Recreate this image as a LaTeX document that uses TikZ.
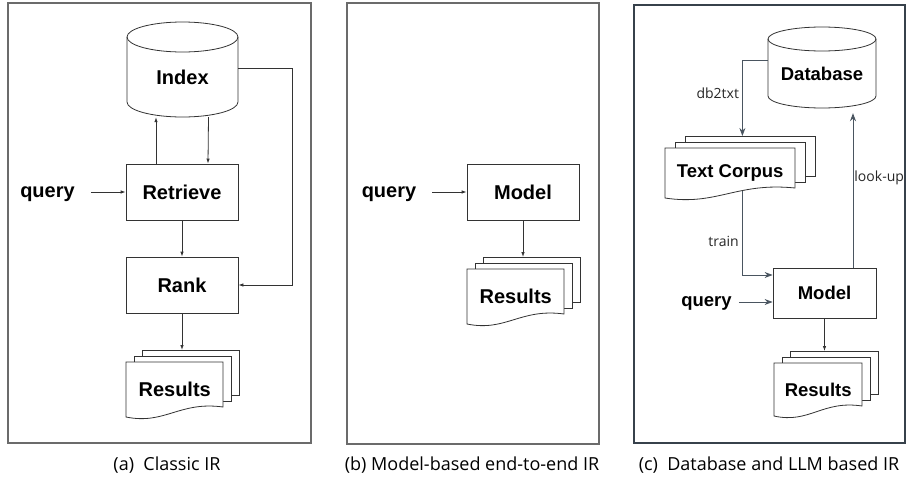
\documentclass[tikz,border=0pt]{standalone}
\usepackage{fontspec}
\setmainfont{Open Sans}
\setsansfont{Liberation Sans}
\usepackage{tikz}
\usetikzlibrary{calc,arrows.meta}

\definecolor{marco}{HTML}{6B6B6B}
\definecolor{marcoc}{HTML}{37414B}
\definecolor{grisc}{HTML}{4A5560}

\newcommand{\etiq}{\sffamily\bfseries\fontsize{20}{24}\selectfont}
\newcommand{\etiqc}{\sffamily\bfseries\fontsize{18.5}{22}\selectfont}
\newcommand{\pie}{\fontsize{18}{22}\selectfont}
\newcommand{\rotulo}{\fontsize{14}{17}\selectfont}

\tikzset{
  linea/.style={draw=black!80, line width=0.8pt},
  flecha/.style={linea, -{Latex[length=5pt, width=3.5pt]}},
  flechac/.style={draw=grisc, line width=0.9pt, -{Stealth[length=8pt, width=6pt]}},
  caja/.style={linea, fill=white, minimum width=112, minimum height=56, font=\etiq},
  hoja/.style={linea, fill=white, inner sep=0pt},
  texto/.style={font=\etiq, inner sep=0pt, text depth=0pt},
  rot/.style={font=\rotulo, text=black!85, inner sep=3pt},
}

% Pila de documentos: nombre, x, y, ancho, alto, desplazamiento, texto
\newcommand{\hojas}[7]{%
  \node[hoja, anchor=north west, minimum width=#4, minimum height=#5] (#1-back) at (#2+2*#6, #3-12) {};
  \node[hoja, anchor=north west, minimum width=#4, minimum height=#5] (#1-mid) at (#2+#6, #3-6) {};
  \draw[hoja] (#2,#3) -- (#2+#4,#3) -- (#2+#4,#3+#5)
    .. controls +(-0.45*#4,-6) and +(0.4*#4,8) .. (#2,#3+#5+10) -- cycle;
  \node[anchor=north west, minimum width=#4, minimum height=#5+10, inner sep=0pt] (#1) at (#2,#3) {#7};
}

% Cilindro: nombre, centro x, arriba, ancho, alto, radio, texto
\newcommand{\cilindro}[7]{%
  \node[minimum width=#4, minimum height=#5-#6, inner sep=0pt] (#1) at (#2, #3+#6/2+#5/2) {#7};
  \draw[linea] (#2,#3+#6) ellipse [x radius=#4/2, y radius=#6];
  \draw[linea] (#2-#4/2,#3+#6) -- (#2-#4/2,#3+#5-#6)
    .. controls +(0,0.552*#6) and +(-0.276*#4,0) .. (#2,#3+#5)
    .. controls +(0.276*#4,0) and +(0,0.552*#6) .. (#2+#4/2,#3+#5-#6) -- (#2+#4/2,#3+#6);
}

\begin{document}
\begin{tikzpicture}[x=1pt, y=-1pt]
        \useasboundingbox (0,0) rectangle (906,485);

        % Marcos
        \draw[marco, line width=1.2pt] (8,3) rectangle (311,443);
        \draw[marco, line width=1.2pt] (347,3) rectangle (599,444);
        \draw[marcoc, line width=2pt] (634,5) rectangle (905,443);

        % (a) IR clasico
        \cilindro{index}{182.5}{22}{111}{95}{15}{\etiq Index}
        \node[caja] (retrieve) at (182,192) {Retrieve};
        \node[caja] (rank) at (182,285) {Rank};
        \node[texto] (qa) at (47.5,192) {query};
        \hojas{resa}{126}{362}{97}{45}{8}{\etiq Results}

        \draw[flecha, shorten <=16pt] (qa) -- (retrieve);
        \draw[flecha] ([xshift=-26pt]retrieve.north) -- ([xshift=-26pt]retrieve.north |- index.south);
        \draw[flecha] ([xshift=26pt]index.south) -- ([xshift=26pt]retrieve.north);
        \draw[flecha] (retrieve) -- (rank);
        \draw[flecha] ([yshift=9pt]index.east) -- ++(54,0) |- (rank.east);
        \draw[flecha] (rank.south) -- (rank.south |- resa-back.north);

        % (b) Modelo de extremo a extremo
        \node[caja] (modelb) at (523,192) {Model};
        \node[texto] (qb) at (389,192) {query};
        \hojas{resb}{467}{269}{97}{45}{8}{\etiq Results}

        \draw[flecha, shorten <=16pt] (qb) -- (modelb);
        \draw[flecha] (modelb.south) -- (modelb.south |- resb-back.north);

        % (c) Base de datos y LLM
        \cilindro{db}{822}{27}{108}{81}{12}{\etiqc Database}
        \hojas{corpus}{665}{148}{130}{40}{10}{\etiqc Text Corpus}
        \node[caja, minimum width=103, minimum height=50, font=\etiqc] (modelc) at (824.5,293) {Model};
        \node[texto, font=\etiqc] (qc) at (706.5,302) {query};
        \hojas{resc}{774}{363}{88}{43}{8}{\etiqc Results}

        \draw[flechac] ([yshift=13pt]db.west) -| node[rot, pos=0.72, left] (l-db) {db2txt} ([xshift=-8pt]corpus-back.north);
        \draw[flechac] ([xshift=12pt, yshift=7pt]corpus.south) |- node[rot, pos=0.3, left] (l-train) {train} ([yshift=18pt]modelc.west);
        \draw[flechac, shorten >=5pt] ([xshift=28.5pt]modelc.north) -- node[rot, pos=0.56, right, inner sep=1pt] (l-look) {look-up} ([xshift=28.5pt]modelc.north |- db.south);
        \draw[flechac, shorten <=7pt] (qc.east) -- (qc.east -| modelc.west);
        \draw[flecha] (modelc.south) -- (modelc.south |- resc-back.north);

        % Pies
        \node[font=\pie] (cap-a) at (167,465) {(a)\ \ Classic IR};
        \node[font=\pie] (cap-b) at (472,465) {(b) Model-based end-to-end IR};
        \node[font=\pie] (cap-c) at (769,465) {(c)\ \ Database and LLM based IR};
\end{tikzpicture}
\end{document}
